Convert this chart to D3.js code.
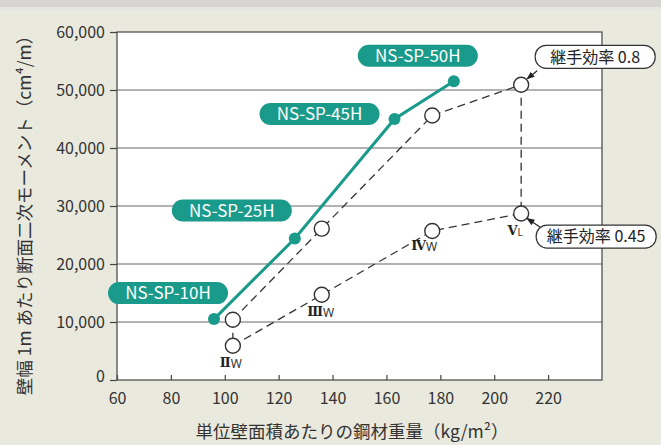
<!DOCTYPE html>
<html><head><meta charset="utf-8">
<script src="https://cdn.jsdelivr.net/npm/d3@7"></script>
<style>
html,body{margin:0;padding:0;background:#e9e9de;}
svg{display:block;}
text{font-family:"Noto Sans CJK JP","Noto Sans",sans-serif;}
</style></head>
<body>
<svg id="chart" width="661" height="445"></svg>
<script>
// ---- data ----
const xTicks = [60, 80, 100, 120, 140, 160, 180, 200, 220];
const yTicks = [0, 10000, 20000, 30000, 40000, 50000, 60000];
const yTickLabels = ["0", "10,000", "20,000", "30,000", "40,000", "50,000", "60,000"];

const nsNames = ["NS-SP-10H", "NS-SP-25H", "NS-SP-45H", "NS-SP-50H"];
const nsWeight = [96, 126, 163, 185];
const nsInertia = [10500, 24400, 45000, 51500];

const uTypes = ["Ⅱ", "Ⅲ", "Ⅳ", "V"];
const uSubs = ["W", "W", "W", "L"];
const uWeight = [103, 136, 177, 210];
const uInertia08 = [10400, 26100, 45600, 50900];
const uInertia045 = [5900, 14700, 25700, 28700];

const effLabels = ["継手効率 0.8", "継手効率 0.45"];

const xTitle = "単位壁面積あたりの鋼材重量（kg/m²）";
const yTitle = "壁幅 1m あたり断面二次モーメント（cm⁴/m）";

// ---- layout ----
const svg = d3.select("#chart");
const L = 117, R = 602, T = 32, B = 380;
const x = d3.scaleLinear().domain([60, 240]).range([L, R]);
const y = d3.scaleLinear().domain([0, 60000]).range([B, T]);
const teal = "#1a9a8b";
const ink = "#333";

// header strip
svg.append("rect").attr("x", 0).attr("y", 0).attr("width", 661).attr("height", 7).attr("fill", "#d6d5d2");
svg.append("rect").attr("x", 0).attr("y", 7).attr("width", 661).attr("height", 3).attr("fill", "#e6e6e0");

// plot background
svg.append("rect").attr("x", L).attr("y", T).attr("width", R - L).attr("height", B - T)
  .attr("fill", "#fff");

// gridlines
svg.append("g").selectAll("line").data(yTicks.slice(1, -1)).join("line")
  .attr("x1", L).attr("x2", R).attr("y1", d => y(d)).attr("y2", d => y(d))
  .attr("stroke", "#666").attr("stroke-width", 1);

// frame
svg.append("rect").attr("x", L).attr("y", T).attr("width", R - L).attr("height", B - T)
  .attr("fill", "none").attr("stroke", "#444").attr("stroke-width", 1.2);

// y axis
const yAxis = d3.axisLeft(y).tickValues(yTicks).tickSize(7).tickPadding(5)
  .tickFormat((d, i) => yTickLabels[i]);
const gy = svg.append("g").attr("transform", `translate(${L},0)`).call(yAxis);
gy.select(".domain").remove();
gy.selectAll("line").attr("stroke", "#444").attr("stroke-width", 1.2);
gy.selectAll("text").attr("font-size", 16).attr("fill", ink)
  .attr("font-family", '"Noto Sans","Noto Sans CJK JP",sans-serif');
gy.selectAll(".tick").filter(d => d === 0).select("text").attr("dy", "0.1em");

// x axis (ticks pointing inward)
const xAxis = d3.axisBottom(x).tickValues(xTicks).tickSize(-5).tickPadding(8);
const gx = svg.append("g").attr("transform", `translate(0,${B})`).call(xAxis);
gx.select(".domain").remove();
gx.selectAll("line").attr("stroke", "#444").attr("stroke-width", 1.2);
gx.selectAll("text").attr("font-size", 16).attr("fill", ink).attr("dy", "1.0em")
  .attr("font-family", '"Noto Sans","Noto Sans CJK JP",sans-serif');

// axis titles
svg.append("text").attr("x", 352).attr("y", 438).attr("text-anchor", "middle")
  .attr("font-size", 17.5).attr("fill", ink).text(xTitle);
svg.append("text").attr("transform", "translate(31,211) rotate(-90)").attr("text-anchor", "middle")
  .attr("font-size", 17.5).attr("fill", ink).text(yTitle);

// dashed connectors for U-type sheet piles
const line = d3.line().x(d => x(d[0])).y(d => y(d[1]));
const up = uWeight.map((w, i) => [w, uInertia08[i]]);
const lo = uWeight.map((w, i) => [w, uInertia045[i]]);
const dashG = svg.append("g").attr("fill", "none").attr("stroke", ink)
  .attr("stroke-width", 1.3).attr("stroke-dasharray", "8,5");
dashG.append("path").attr("d", line(up));
dashG.append("path").attr("d", line(lo));
// verticals at II and V
[0, 3].forEach(i => {
  dashG.append("path").attr("d", line([up[i], lo[i]]));
});

// NS-SP line
const ns = nsWeight.map((w, i) => [w, nsInertia[i]]);
svg.append("path").attr("d", line(ns)).attr("fill", "none").attr("stroke", teal).attr("stroke-width", 3);
svg.append("g").selectAll("circle").data(ns).join("circle")
  .attr("cx", d => x(d[0])).attr("cy", d => y(d[1])).attr("r", 6).attr("fill", teal);

// open circles
svg.append("g").selectAll("circle").data(up.concat(lo)).join("circle")
  .attr("cx", d => x(d[0])).attr("cy", d => y(d[1])).attr("r", 7.5)
  .attr("fill", "#fff").attr("stroke", ink).attr("stroke-width", 1.4);

// NS-SP pill labels
const pillOff = [[-46, -26], [-63, -28], [-75, -5], [-36, -25.5]];
const pw = 120, ph = 22;
ns.forEach((d, i) => {
  const cx = x(d[0]) + pillOff[i][0], cy = y(d[1]) + pillOff[i][1];
  svg.append("rect").attr("x", cx - pw / 2).attr("y", cy - ph / 2).attr("width", pw).attr("height", ph)
    .attr("rx", 11).attr("fill", teal);
  svg.append("text").attr("x", cx).attr("y", cy).attr("dy", "0.36em").attr("text-anchor", "middle")
    .attr("font-size", 17).attr("fill", "#fff")
    .attr("font-family", '"Noto Sans","Noto Sans CJK JP",sans-serif').text(nsNames[i]);
});

// roman numeral labels
const romOff = [[-2, 21], [-1, 21], [-8, 19], [-6, 21]];
lo.forEach((d, i) => {
  const t = svg.append("text").attr("x", x(d[0]) + romOff[i][0]).attr("y", y(d[1]) + romOff[i][1])
    .attr("text-anchor", "middle").attr("fill", "#222");
  t.append("tspan").attr("font-family", '"DejaVu Serif",serif').attr("font-weight", "bold")
    .attr("font-size", 13).text(uTypes[i]);
  t.append("tspan").attr("font-family", '"Noto Sans",sans-serif').attr("font-size", i === 3 ? 10 : 12)
    .attr("dy", 1).attr("fill", "#333").text(uSubs[i]);
});

// callouts for joint efficiency
const defs = svg.append("defs");
defs.append("marker").attr("id", "ah").attr("viewBox", "0 0 10 10").attr("refX", 9).attr("refY", 5)
  .attr("markerWidth", 8).attr("markerHeight", 8).attr("orient", "auto-start-reverse")
  .attr("markerUnits", "userSpaceOnUse")
  .append("path").attr("d", "M0,1 L10,5 L0,9 z").attr("fill", "#222");

const callPts = [up[3], lo[3]];
const callOff = [[74, -28], [75, 23]];
const arrowFrom = [[-58, 14], [-54, -8]];
const arrowTo = [[6, -6], [6, 5]];
const cw = 120, ch = 23;
callPts.forEach((d, i) => {
  const px = x(d[0]), py = y(d[1]);
  const cx = px + callOff[i][0], cy = py + callOff[i][1];
  svg.append("line").attr("x1", cx + arrowFrom[i][0]).attr("y1", cy + arrowFrom[i][1])
    .attr("x2", px + arrowTo[i][0]).attr("y2", py + arrowTo[i][1])
    .attr("stroke", "#222").attr("stroke-width", 1.2).attr("marker-end", "url(#ah)");
  svg.append("rect").attr("x", cx - cw / 2).attr("y", cy - ch / 2).attr("width", cw).attr("height", ch)
    .attr("rx", 11).attr("fill", "#fff").attr("stroke", "#333").attr("stroke-width", 1.2);
  svg.append("text").attr("x", cx).attr("y", cy).attr("dy", "0.36em").attr("text-anchor", "middle")
    .attr("font-size", 16).attr("fill", "#222").text(effLabels[i]);
});
</script>
</body></html>
